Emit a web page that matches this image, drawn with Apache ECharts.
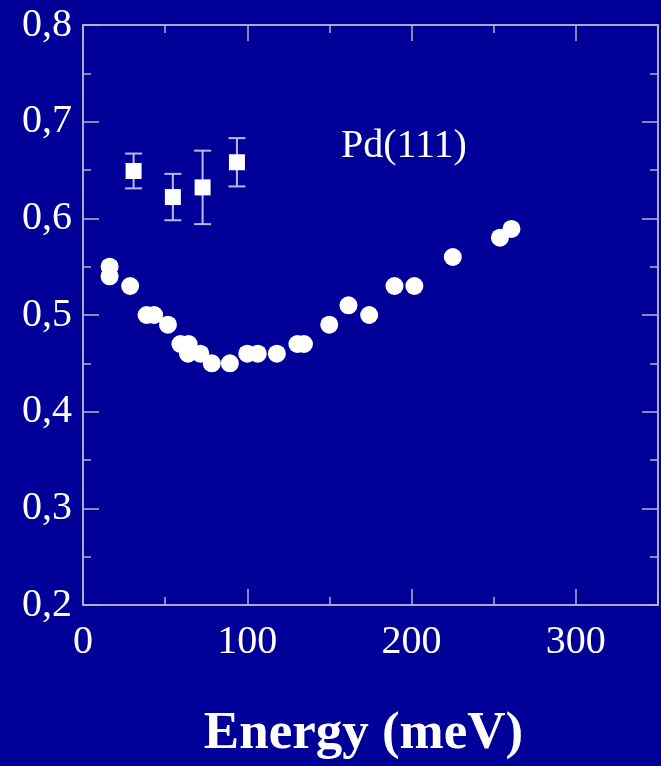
<!DOCTYPE html>
<html>
<head>
<meta charset="utf-8">
<script src="https://cdn.jsdelivr.net/npm/echarts@6/dist/echarts.min.js"></script>
<style>
html,body{margin:0;padding:0;background:#000099;}
#chart{width:661px;height:766px;}
</style>
</head>
<body>
<div id="chart"></div>
<script>
// Circles (white dots)
var circleX = [16.2, 16.2, 28.7, 38.7, 43.3, 51.7, 59.3, 64.3, 63.9, 71.4, 78.4, 89.4, 100, 106.4, 118, 130.5, 134.5, 149.9, 161.6, 174.2, 189.6, 201.7, 225.1, 253.8, 260.8];
var circleY = [0.55, 0.54, 0.53, 0.50, 0.50, 0.49, 0.47, 0.47, 0.46, 0.46, 0.45, 0.45, 0.46, 0.46, 0.46, 0.47, 0.47, 0.49, 0.51, 0.50, 0.53, 0.53, 0.56, 0.58, 0.589];
// Squares with error bars
var squareX = [30.8, 54.7, 72.8, 93.7];
var squareY = [0.649, 0.622, 0.632, 0.658];
var errLow  = [0.631, 0.598, 0.594, 0.633];
var errHigh = [0.667, 0.646, 0.670, 0.683];
var xTicks = [0, 100, 200, 300];
var yTicks = [0.2, 0.3, 0.4, 0.5, 0.6, 0.7, 0.8];
var annotation = 'Pd(111)';
var xTitle = 'Energy (meV)';

var circles = circleX.map(function(x, i){ return [x, circleY[i]]; });
var squares = squareX.map(function(x, i){ return [x, squareY[i]]; });
var errs = squareX.map(function(x, i){ return [x, errLow[i], errHigh[i]]; });

var axisColor = '#b4b4cc';
var font = 'Liberation Serif, Times New Roman, serif';

function tickStyle(len){ return {show:true, inside:true, length:len, lineStyle:{color:axisColor, width:1.5}}; }
function xAx(pos, interval, len, extra){
  var a = {type:'value', min:0, max:350, interval:interval, position:pos,
    axisLine:{show:true, onZero:false, lineStyle:{color:axisColor, width:1.5}},
    axisTick:tickStyle(len), splitLine:{show:false}, axisLabel:{show:false}};
  return Object.assign(a, extra || {});
}
function yAx(pos, interval, len, extra){
  var a = {type:'value', min:0.2, max:0.8, interval:interval, position:pos,
    axisLine:{show:true, onZero:false, lineStyle:{color:axisColor, width:1.5}},
    axisTick:tickStyle(len), splitLine:{show:false}, axisLabel:{show:false}};
  return Object.assign(a, extra || {});
}

var chart = echarts.init(document.getElementById('chart'), null, {renderer:'canvas'});
chart.setOption({
  backgroundColor:'#000099',
  animation:false,
  grid:{left:83, top:25, width:582, height:582},
  xAxis:[
    xAx('bottom', 100, 16, {
      axisLabel:{show:true, color:'#fff', fontFamily:font, fontSize:40, margin:17,
        formatter:function(v){ return xTicks.indexOf(v) >= 0 ? String(v) : ''; }},
      name:xTitle, nameLocation:'middle', nameGap:103,
      nameTextStyle:{color:'#fff', fontFamily:font, fontSize:53, fontWeight:'bold', padding:[0,14,0,0]}
    }),
    xAx('top', 100, 16),
    xAx('bottom', 50, 8),
    xAx('top', 50, 8)
  ],
  yAxis:[
    yAx('left', 0.1, 16, {
      axisLabel:{show:true, color:'#fff', fontFamily:font, fontSize:40, margin:11,
        formatter:function(v){
          var r = Math.round(v*10)/10;
          return yTicks.indexOf(r) >= 0 ? r.toFixed(1).replace('.', ',') : '';
        }}
    }),
    yAx('right', 0.1, 16),
    yAx('left', 0.05, 8),
    yAx('right', 0.05, 8)
  ],
  graphic:[{
    type:'text', left:341, top:126,
    style:{text:annotation, fill:'#fff', font:'40px ' + font}
  }],
  series:[{
    type:'custom', xAxisIndex:0, yAxisIndex:0,
    data:errs,
    renderItem:function(params, api){
      var x = api.value(0);
      var lo = api.coord([x, api.value(1)]);
      var hi = api.coord([x, api.value(2)]);
      var hw = 8.5;
      var st = {stroke:'#b8b8ec', lineWidth:2};
      return {type:'group', children:[
        {type:'line', shape:{x1:lo[0], y1:lo[1], x2:hi[0], y2:hi[1]}, style:st},
        {type:'line', shape:{x1:lo[0]-hw, y1:lo[1], x2:lo[0]+hw, y2:lo[1]}, style:st},
        {type:'line', shape:{x1:hi[0]-hw, y1:hi[1], x2:hi[0]+hw, y2:hi[1]}, style:st}
      ]};
    },
    z:2
  },{
    type:'scatter', xAxisIndex:0, yAxisIndex:0, data:squares, symbol:'rect', symbolSize:16,
    itemStyle:{color:'#ffffff', opacity:1}, z:3
  },{
    type:'scatter', xAxisIndex:0, yAxisIndex:0, data:circles, symbol:'circle', symbolSize:18,
    itemStyle:{color:'#ffffff', opacity:1}, z:3
  }]
});
</script>
</body>
</html>
